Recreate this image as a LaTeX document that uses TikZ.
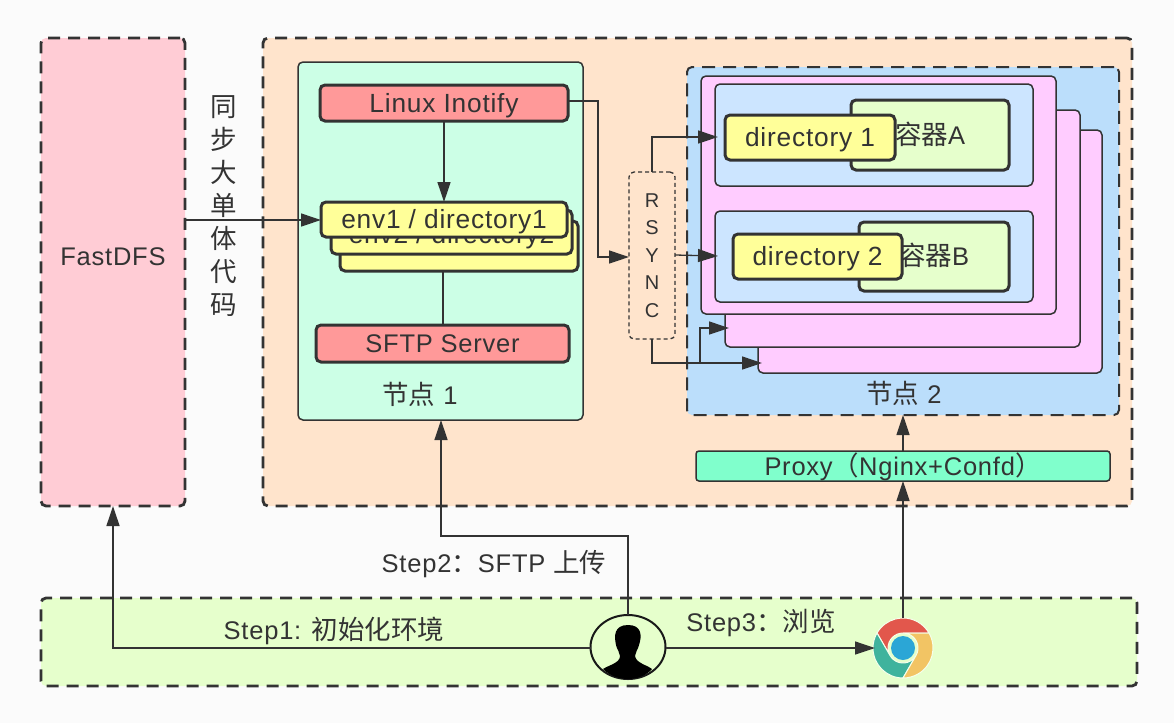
\documentclass[tikz,border=0pt]{standalone}
\usepackage{fontspec}
\setmainfont{Liberation Sans}[LetterSpace=3]
\newfontfamily\zhf{Noto Sans CJK SC}
\newcommand{\zh}[1]{{\zhf\fontsize{26.5}{30}\selectfont #1}}
\usetikzlibrary{arrows.meta,shapes.geometric}
\definecolor{ink}{HTML}{333333}
\definecolor{pinkA}{HTML}{FFCCD5}
\definecolor{orangeA}{HTML}{FFE4CC}
\definecolor{mintA}{HTML}{CCFFE6}
\definecolor{redA}{HTML}{FF9999}
\definecolor{yellowA}{HTML}{FFFF99}
\definecolor{blueA}{HTML}{BBDEFB}
\definecolor{blueB}{HTML}{CCE5FF}
\definecolor{magA}{HTML}{FFCCFF}
\definecolor{limeA}{HTML}{E6FFCC}
\definecolor{proxyA}{HTML}{80FFCC}
\definecolor{pageA}{HTML}{FBFBFB}
\definecolor{chromeR}{HTML}{E2574C}
\definecolor{chromeG}{HTML}{3FB39D}
\definecolor{chromeY}{HTML}{F2C464}
\definecolor{chromeB}{HTML}{2BA6D6}
\tikzset{
 box/.style={draw=ink,rounded corners=5pt,inner sep=0pt,outer sep=0pt,anchor=north west,text=ink,font=\fontsize{25.5}{30}\selectfont},
 mid/.style={text height=21pt,text depth=3pt},
 bigtext/.style={font=\fontsize{26.3}{30}\selectfont},
 dashbox/.style={box,line width=2.8pt,dash pattern=on 12pt off 8pt},
 thinbox/.style={box,mid,line width=1.5pt},
 heavybox/.style={box,mid,line width=3pt},
 conn/.style={draw=ink,line width=1.3pt},
 arr/.style={conn,-{Triangle[length=20pt,width=13pt,fill=ink]}},
 lbl/.style={text=ink,font=\fontsize{25.5}{30}\selectfont,inner sep=0pt},
 sz/.style 2 args={minimum width=#1pt,minimum height=#2pt},
 seg/.style={draw=limeA!40!white,line width=1pt},
}
\begin{document}
\begin{tikzpicture}[x=1pt,y=-1pt]
\useasboundingbox (0,0) rectangle (1174,723);
\fill[pageA] (0,0) rectangle (1174,723);
% outer regions
\node[dashbox,fill=pinkA,sz={144}{468},text height=10pt,text depth=24pt] (fast) at (41,38) {FastDFS};
\node[dashbox,fill=orangeA,sz={869}{468}] (zone) at (263,38) {};
\node[dashbox,fill=limeA,sz={1096}{88}] (client) at (41,598) {};
% node 1
\node[thinbox,fill=mintA,sz={285}{358}] (n1) at (298,62) {};
\node[lbl] (n1l) at (420,394) {\zh{节点} 1};
\node[heavybox,bigtext,fill=redA,sz={248}{36}] (ino) at (320,85) {Linux Inotify};
\node[heavybox,fill=yellowA,sz={238}{50}] (env3) at (340,221) {};
\node[heavybox,bigtext,fill=yellowA,sz={241}{44},text height=25pt,text depth=3pt] (env2) at (331,210) {env2 / directory2};
\node[heavybox,bigtext,fill=yellowA,sz={246}{35},text height=20pt,text depth=3pt] (env1) at (321,202) {env1 / directory1};
\node[heavybox,fill=redA,sz={253}{37}] (sftp) at (316,325) {SFTP Server};
% node 2
\node[box,line width=2pt,dash pattern=on 13pt off 8pt,fill=blueA,sz={432}{348}] (n2) at (687,67) {};
\node[lbl] (n2l) at (904,393) {\zh{节点} 2};
\node[thinbox,fill=magA,sz={344}{243}] (p3) at (758,130) {};
\node[thinbox,fill=magA,sz={355}{237}] (p2) at (725,110) {};
\node[thinbox,fill=magA,sz={355}{238}] (p1) at (701,76) {};
\node[thinbox,fill=blueB,sz={318}{102}] (b1) at (715,84) {};
\node[thinbox,fill=blueB,sz={318}{91}] (b2) at (715,211) {};
\node[heavybox,fill=limeA,sz={158}{70}] (ca) at (851,100) {\zh{容器}A};
\node[heavybox,fill=limeA,sz={150}{69}] (cb) at (859,222) {\zh{容器}B};
\node[heavybox,bigtext,fill=yellowA,sz={170}{45}] (d1) at (725,115) {directory 1};
\node[heavybox,bigtext,fill=yellowA,sz={169}{45}] (d2) at (733,234) {directory 2};
% rsync
\node[box,line width=1.3pt,dash pattern=on 4pt off 3pt,sz={46}{167},align=center,font=\fontsize{20}{27.5}\selectfont] (rs) at (629,172) {R\\S\\Y\\N\\C};
% proxy
\node[thinbox,fill=proxyA,rounded corners=3pt,sz={414}{30}] (px) at (696,451) {Proxy\zh{（}Nginx+Confd\zh{）}};
% icons
\node[circle,inner sep=0pt,outer sep=0pt,minimum size=60pt] (chrome) at (903,648) {};
\begin{scope}[shift={(903,648)},y=1pt]
\filldraw[seg,fill=chromeR] (150:30) arc[start angle=150,end angle=30,radius=30pt] -- (90:15) arc[start angle=90,end angle=210,radius=15pt] -- cycle;
\filldraw[seg,fill=chromeG] (270:30) arc[start angle=270,end angle=150,radius=30pt] -- (210:15) arc[start angle=210,end angle=330,radius=15pt] -- cycle;
\filldraw[seg,fill=chromeY] (30:30) arc[start angle=30,end angle=-90,radius=30pt] -- (-30:15) arc[start angle=-30,end angle=90,radius=15pt] -- cycle;
\fill[chromeB] (0,0) circle[radius=12pt];
\end{scope}
\node[ellipse,draw=black!90,line width=2pt,fill=limeA,inner sep=0pt,outer sep=0pt,minimum width=75pt,minimum height=64pt] (user) at (628,647) {};
\fill[black] (628,625) .. controls (614,625) and (614,636) .. (616,645) .. controls (617,650) and (620,652) .. (620,656) .. controls (620,663) and (609,665) .. (603,669) .. controls (610,676) and (620,679) .. (628,679) .. controls (636,679) and (646,676) .. (652,669) .. controls (647,665) and (636,663) .. (635,656) .. controls (635,652) and (638,650) .. (639,645) .. controls (642,636) and (642,625) .. (628,625) -- cycle;
% free corner points
\coordinate (a) at (598,101);
\coordinate (b) at (598,257);
% connectors
\draw[arr] (444,121) -- (444,202);
\draw[arr] (fast.east |- 220,220) -- (321,220);
\draw[conn] (443,271) -- (443,325);
\draw[arr] (ino.east |- a) -- (a) -- (b) -- (rs.west |- b);
\draw[arr] (652,172) -- (652,137) -- (718,137);
\draw[arr] (675,255) -- (718,256);
\draw[arr] (652,339) -- (652,363) -- (762,363);
\draw[arr] (700,363) -- (700,328) -- (729,328);
\draw[arr] (628,615) -- (628,536) -- (441,536) -- (441,420);
\draw[arr] (px.north -| 903,0) -- (903,415);
\draw[arr] (903,618) -- (903,481);
\draw[arr] (user.west |- 0,648) -- (113,648) -- (113,506);
\draw[arr] (user.east |- 0,648) -- (875,648);
% labels
\node[lbl,align=center,font=\zhf\fontsize{26.5}{33}\selectfont] (sync) at (224,206) {同\\步\\大\\单\\体\\代\\码};
\node[lbl] (s1) at (334,631) {Step1: \zh{初始化环境}};
\node[lbl] (s2) at (494,564) {Step2\zh{：}SFTP \zh{上传}};
\node[lbl] (s3) at (761,623) {Step3\zh{：浏览}};
\end{tikzpicture}
\end{document}
